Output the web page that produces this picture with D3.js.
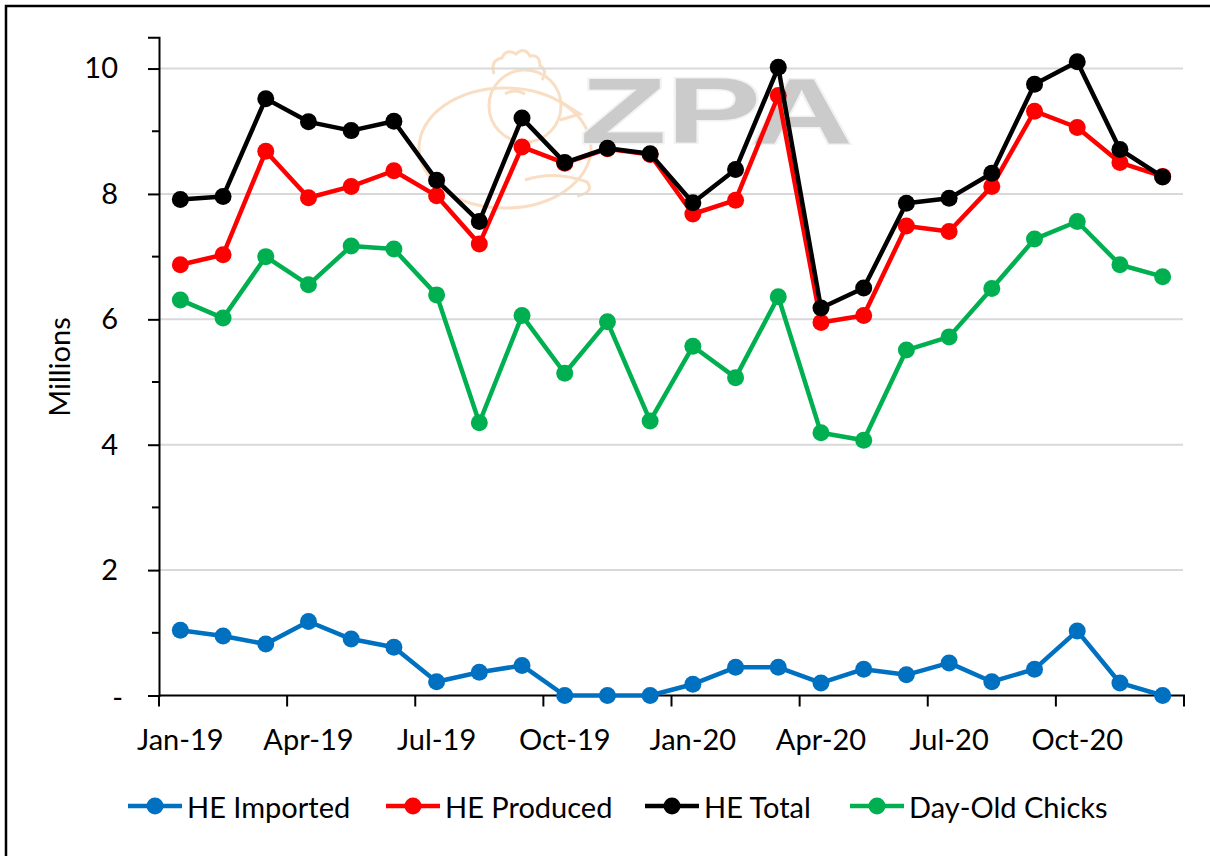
<!DOCTYPE html>
<html>
<head>
<meta charset="utf-8">
<script src="https://cdnjs.cloudflare.com/ajax/libs/d3/7.8.5/d3.min.js"></script>
<style>
  body { margin: 0; background: #fff; }
  svg text { font-family: Lato, "Open Sans", sans-serif; fill: #000; }
</style>
</head>
<body>
<script>
// data (millions)
var months = ["Jan-19", "Feb-19", "Mar-19", "Apr-19", "May-19", "Jun-19", "Jul-19", "Aug-19", "Sep-19", "Oct-19", "Nov-19", "Dec-19",
              "Jan-20", "Feb-20", "Mar-20", "Apr-20", "May-20", "Jun-20", "Jul-20", "Aug-20", "Sep-20", "Oct-20", "Nov-20", "Dec-20"];
var tickMonths = ["Jan-19", "Apr-19", "Jul-19", "Oct-19", "Jan-20", "Apr-20", "Jul-20", "Oct-20"];
var heImported = [1.04, 0.95, 0.82, 1.18, 0.90, 0.77, 0.22, 0.37, 0.48, 0, 0, 0,
                  0.18, 0.45, 0.45, 0.20, 0.42, 0.33, 0.52, 0.22, 0.42, 1.03, 0.20, 0];
var heProduced = [6.87, 7.03, 8.68, 7.94, 8.12, 8.37, 7.97, 7.20, 8.75, 8.49, 8.72, 8.63,
                  7.68, 7.90, 9.57, 5.95, 6.06, 7.49, 7.40, 8.12, 9.32, 9.06, 8.50, 8.28];
var heTotal = [7.91, 7.96, 9.52, 9.15, 9.01, 9.16, 8.22, 7.56, 9.21, 8.50, 8.73, 8.64,
               7.86, 8.39, 10.02, 6.18, 6.50, 7.85, 7.93, 8.33, 9.75, 10.11, 8.71, 8.27];
var dayOldChicks = [6.31, 6.02, 7.00, 6.55, 7.17, 7.12, 6.39, 4.35, 6.06, 5.14, 5.96, 4.38,
                    5.57, 5.07, 6.36, 4.19, 4.07, 5.51, 5.72, 6.49, 7.28, 7.56, 6.87, 6.68];
var yTicks = [0, 2, 4, 6, 8, 10];
var yMinorTicks = [1, 3, 5, 7, 9];
var seriesNames = ["HE Imported", "HE Produced", "HE Total", "Day-Old Chicks"];
var seriesColours = ["#0070C0", "#FF0000", "#000000", "#00B050"];

var series = [
    { name: seriesNames[0], colour: seriesColours[0], values: heImported },
    { name: seriesNames[1], colour: seriesColours[1], values: heProduced },
    { name: seriesNames[2], colour: seriesColours[2], values: heTotal },
    { name: seriesNames[3], colour: seriesColours[3], values: dayOldChicks }
];

var width = 1210, height = 856;
var fontSize = 29;

var svg = d3.select("body").append("svg")
    .attr("width", width).attr("height", height);

// outer frame
svg.append("rect")
    .attr("x", 6).attr("y", 6)
    .attr("width", width + 10).attr("height", height + 10)
    .attr("fill", "#fff").attr("stroke", "#000").attr("stroke-width", 2.5);

var x = d3.scaleBand().domain(months).range([159, 1184]);
var y = d3.scaleLinear().domain([0, 10.5]).range([695.5, 37.2]);

// watermark (faint logo behind the plot)
var mark = svg.append("g").attr("class", "watermark");
var logo = mark.append("g")
    .attr("fill", "none").attr("stroke", "#f7d3b0").attr("stroke-width", 3).attr("opacity", 0.75);
logo.append("ellipse").attr("cx", 505).attr("cy", 148).attr("rx", 86).attr("ry", 60);
logo.append("circle").attr("cx", 525).attr("cy", 106).attr("r", 36);
logo.append("path").attr("d", "M494,74 q-4,-14 8,-16 q4,-10 14,-4 q8,-8 14,2 q10,-2 10,10 q8,4 2,14");
logo.append("path").attr("d", "M558,100 l22,14 l-20,6");
logo.append("path").attr("d", "M505,94 q10,-6 20,0");
logo.append("path").attr("d", "M525,180 q30,-10 62,2 q8,10 -10,14");

mark.append("text")
    .attr("x", 580).attr("y", 143)
    .attr("textLength", 273).attr("lengthAdjust", "spacingAndGlyphs")
    .style("font-family", "'Liberation Sans', Arial, sans-serif")
    .style("font-weight", "bold")
    .style("font-size", "92px")
    .style("fill", "#cbcbcb")
    .attr("stroke", "#f2f2f2").attr("stroke-width", 3).attr("paint-order", "stroke")
    .text("ZPA");

// gridlines
svg.append("g").selectAll("line").data(yTicks.filter(function(d) { return d > 0; })).enter()
    .append("line")
    .attr("x1", 159).attr("x2", 1183)
    .attr("y1", function(d) { return y(d); }).attr("y2", function(d) { return y(d); })
    .attr("stroke", "#d9d9d9").attr("stroke-width", 2);

// y axis
var yAxis = svg.append("g").attr("class", "y-axis").attr("transform", "translate(159,0)")
    .call(d3.axisLeft(y).tickValues(yTicks).tickSize(11).tickPadding(30)
        .tickFormat(function(d) { return d === 0 ? "-" : d; }));
yAxis.select(".domain").attr("stroke-width", 2);
yAxis.selectAll(".tick line").attr("stroke-width", 2);
yAxis.selectAll(".tick text").style("font-size", fontSize + "px").attr("fill", "#000");
yAxis.selectAll(".tick").filter(function(d) { return d === 0; }).select("text").attr("dy", "0.4em").attr("x", -36);
svg.append("g").selectAll("line").data(yMinorTicks).enter()
    .append("line")
    .attr("x1", 152).attr("x2", 159)
    .attr("y1", function(d) { return y(d); }).attr("y2", function(d) { return y(d); })
    .attr("stroke", "#000").attr("stroke-width", 2);

// x axis: ticks on quarter boundaries, labels on the quarter's first month
var xAxisG = svg.append("g").attr("class", "x-axis").attr("transform", "translate(0," + y(0) + ")");
xAxisG.append("line").attr("x1", 159).attr("x2", 1185).attr("stroke", "#000").attr("stroke-width", 2);
var boundaries = tickMonths.map(function(m) { return x(m); }).concat([x(months[months.length - 1]) + x.bandwidth()]);
xAxisG.selectAll(".xtick").data(boundaries).enter()
    .append("line").attr("class", "xtick")
    .attr("x1", function(d) { return d; }).attr("x2", function(d) { return d; })
    .attr("y1", 0).attr("y2", 11)
    .attr("stroke", "#000").attr("stroke-width", 2);
xAxisG.selectAll(".xlabel").data(tickMonths).enter()
    .append("text").attr("class", "xlabel")
    .attr("x", function(d) { return x(d) + x.bandwidth() / 2; })
    .attr("y", 43)
    .attr("dominant-baseline", "central")
    .attr("text-anchor", "middle")
    .style("font-size", fontSize + "px")
    .text(function(d) { return d; });

// y axis title
svg.append("text")
    .attr("transform", "translate(58,367)rotate(-90)")
    .attr("text-anchor", "middle")
    .attr("dominant-baseline", "central")
    .style("font-size", fontSize + "px")
    .text("Millions");

// series lines and markers
var line = d3.line()
    .x(function(d, i) { return x(months[i]) + x.bandwidth() / 2; })
    .y(function(d) { return y(d); });

var seriesG = svg.selectAll(".series").data(series).enter()
    .append("g").attr("class", "series");
seriesG.append("path")
    .attr("d", function(s) { return line(s.values); })
    .attr("fill", "none")
    .attr("stroke", function(s) { return s.colour; })
    .attr("stroke-width", 4.5)
    .attr("stroke-linejoin", "round");
seriesG.selectAll("circle").data(function(s) { return s.values.map(function(v, i) { return { v: v, i: i, c: s.colour }; }); })
    .enter().append("circle")
    .attr("cx", function(d) { return x(months[d.i]) + x.bandwidth() / 2; })
    .attr("cy", function(d) { return y(d.v); })
    .attr("r", 8.5)
    .attr("fill", function(d) { return d.c; });

// legend
var legendX = [128, 386, 645, 850];
var legend = svg.selectAll(".legend").data(series).enter()
    .append("g").attr("class", "legend")
    .attr("transform", function(s, i) { return "translate(" + legendX[i] + ",806)"; });
legend.append("line")
    .attr("x1", 0).attr("x2", 54)
    .attr("stroke", function(s) { return s.colour; }).attr("stroke-width", 4.5);
legend.append("circle")
    .attr("cx", 27).attr("r", 8.5)
    .attr("fill", function(s) { return s.colour; });
legend.append("text")
    .attr("x", 59)
    .attr("dominant-baseline", "central")
    .style("font-size", fontSize + "px")
    .text(function(s) { return s.name; });
</script>
</body>
</html>
